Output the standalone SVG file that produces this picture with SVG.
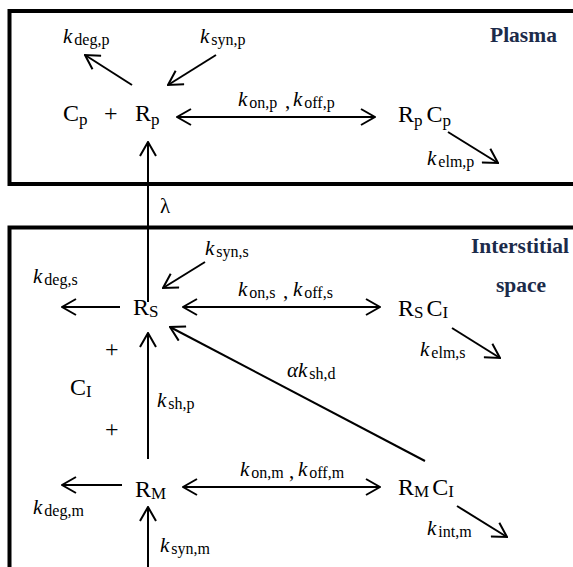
<svg xmlns="http://www.w3.org/2000/svg" width="573" height="567" viewBox="0 0 573 567">
<style>
.box{fill:none;stroke:#000;stroke-width:4}
.ln{fill:none;stroke:#000;stroke-width:2;marker-end:url(#ah)}
.bi{fill:none;stroke:#000;stroke-width:2;marker-end:url(#ah);marker-start:url(#ah)}
.sp{font-family:"Liberation Serif","Times New Roman",serif;font-size:24px;fill:#000}
.ss{font-size:17px}
.lb{font-family:"Liberation Serif","Times New Roman",serif;font-size:21px;fill:#000}
.k{font-style:italic}
.sb{font-size:16px;font-style:normal}
.ttl{font-family:"Liberation Serif","Times New Roman",serif;font-size:21.5px;font-weight:bold;fill:#1c2b4a}
</style>
<defs>
<marker id="ah" viewBox="0 0 16 18" refX="15" refY="9" markerWidth="16" markerHeight="18" markerUnits="userSpaceOnUse" orient="auto-start-reverse">
<path d="M1,1 L15,9 L1,17" fill="none" stroke="#000" stroke-width="2"/>
</marker>
</defs>
<rect width="573" height="567" fill="#fff"/>
<g id="compartments">
<rect id="plasma" class="box" x="9.5" y="11" width="580" height="173"/>
<rect id="interstitial" class="box" x="9.5" y="227.5" width="580" height="400"/>
<text class="ttl" x="490" y="42">Plasma</text>
<text class="ttl" x="471" y="253">Interstitial</text>
<text class="ttl" x="496" y="292">space</text>
</g>
<g id="connectors">
<line class="ln" x1="132" y1="85" x2="85" y2="55"/>
<line class="ln" x1="216" y1="55" x2="168" y2="85"/>
<line class="bi" x1="177" y1="117" x2="375" y2="117"/>
<line class="ln" x1="448" y1="132" x2="498" y2="163"/>
<line class="ln" x1="148" y1="302" x2="148" y2="142"/>
<line class="ln" x1="120" y1="307" x2="62" y2="307"/>
<line class="ln" x1="205" y1="262" x2="163" y2="288"/>
<line class="bi" x1="183" y1="307" x2="380" y2="307"/>
<line class="ln" x1="452" y1="328" x2="500" y2="358"/>
<line class="ln" x1="148" y1="459" x2="148" y2="333"/>
<line class="ln" x1="425" y1="461" x2="170" y2="327"/>
<line class="ln" x1="122" y1="485" x2="62" y2="485"/>
<line class="ln" x1="148" y1="570" x2="148" y2="507"/>
<line class="bi" x1="183" y1="487" x2="380" y2="487"/>
<line class="ln" x1="457" y1="506" x2="507" y2="537"/>
</g>
<g id="labels">
<text class="lb" x="63" y="43"><tspan class="k">k</tspan><tspan class="sb" dx="2" dy="2">deg,p</tspan></text>
<text class="lb" x="200" y="43"><tspan class="k">k</tspan><tspan class="sb" dx="2" dy="2">syn,p</tspan></text>
<text class="lb" x="238" y="106"><tspan class="k">k</tspan><tspan class="sb" dx="2" dy="2">on,p</tspan></text>
<text class="lb" x="285" y="108">,</text>
<text class="lb" x="293" y="106"><tspan class="k">k</tspan><tspan class="sb" dx="2" dy="2">off,p</tspan></text>
<text class="lb" x="427" y="165"><tspan class="k">k</tspan><tspan class="sb" dx="2" dy="2">elm,p</tspan></text>
<text class="lb" x="160" y="213">λ</text>
<text class="lb" x="205" y="255"><tspan class="k">k</tspan><tspan class="sb" dx="2" dy="2">syn,s</tspan></text>
<text class="lb" x="33" y="283"><tspan class="k">k</tspan><tspan class="sb" dx="2" dy="2">deg,s</tspan></text>
<text class="lb" x="238" y="296"><tspan class="k">k</tspan><tspan class="sb" dx="2" dy="2">on,s</tspan></text>
<text class="lb" x="283" y="298">,</text>
<text class="lb" x="293" y="296"><tspan class="k">k</tspan><tspan class="sb" dx="2" dy="2">off,s</tspan></text>
<text class="lb" x="420" y="356"><tspan class="k">k</tspan><tspan class="sb" dx="2" dy="2">elm,s</tspan></text>
<text class="lb" x="287" y="377"><tspan class="k">αk</tspan><tspan class="sb" dx="2" dy="2">sh,d</tspan></text>
<text class="lb" x="157" y="407"><tspan class="k">k</tspan><tspan class="sb" dx="2" dy="2">sh,p</tspan></text>
<text class="lb" x="240" y="476"><tspan class="k">k</tspan><tspan class="sb" dx="2" dy="2">on,m</tspan></text>
<text class="lb" x="289" y="478">,</text>
<text class="lb" x="298" y="476"><tspan class="k">k</tspan><tspan class="sb" dx="2" dy="2">off,m</tspan></text>
<text class="lb" x="33" y="514"><tspan class="k">k</tspan><tspan class="sb" dx="2" dy="2">deg,m</tspan></text>
<text class="lb" x="427" y="535"><tspan class="k">k</tspan><tspan class="sb" dx="2" dy="2">int,m</tspan></text>
<text class="lb" x="160" y="552"><tspan class="k">k</tspan><tspan class="sb" dx="2" dy="2">syn,m</tspan></text>
</g>
<g id="Cp_Rp">
<text class="sp" x="63" y="121">C<tspan class="ss" dy="4">p</tspan></text>
<text class="sp" x="104" y="121" textLength="16">+</text>
<text class="sp" x="135" y="121">R<tspan class="ss" dy="4">p</tspan></text>
</g>
<g id="RpCp">
<text class="sp" x="398" y="122">R<tspan class="ss" dy="4">p</tspan><tspan dy="-4" dx="4">C</tspan><tspan class="ss" dy="4">p</tspan></text>
</g>
<g id="Rs">
<text class="sp" x="133" y="315">R<tspan class="ss" dy="2">S</tspan></text>
</g>
<g id="RsCI">
<text class="sp" x="398" y="316">R<tspan class="ss" dy="2">S</tspan><tspan dy="-2" dx="3">C</tspan><tspan class="ss" dy="2">I</tspan></text>
</g>
<g id="CI">
<text class="sp" x="105" y="357">+</text>
<text class="sp" x="70" y="395">C<tspan class="ss" dy="2">I</tspan></text>
<text class="sp" x="105" y="437">+</text>
</g>
<g id="Rm">
<text class="sp" x="135" y="497">R<tspan class="ss" dy="2">M</tspan></text>
</g>
<g id="RmCI">
<text class="sp" x="398" y="495">R<tspan class="ss" dy="2">M</tspan><tspan dy="-2" dx="3">C</tspan><tspan class="ss" dy="2">I</tspan></text>
</g>
</svg>
